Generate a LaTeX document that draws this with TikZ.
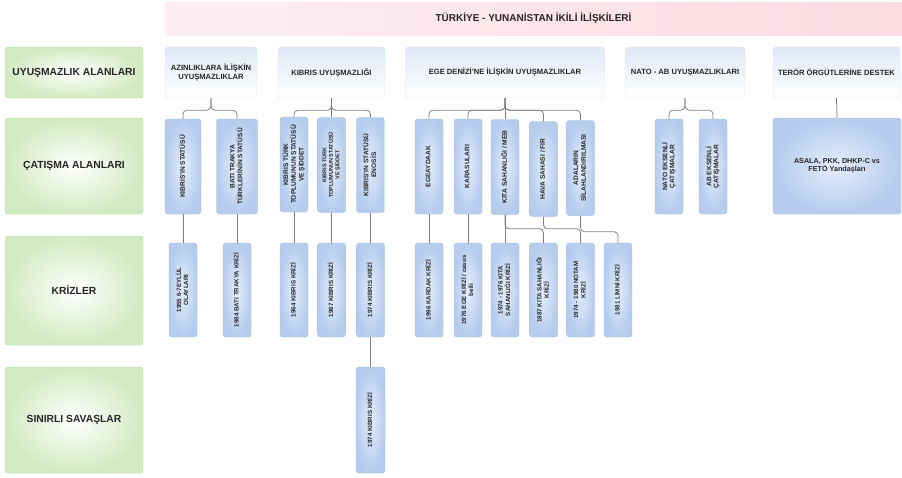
\documentclass[tikz,border=0pt]{standalone}
\usepackage{fontspec}
\setmainfont{Liberation Sans}

\definecolor{verdebordo}{HTML}{B3D79A}
\definecolor{verdefondo}{HTML}{D2EAC1}
\definecolor{blubordo}{HTML}{9DB6DD}
\definecolor{bluinterno}{HTML}{E4EDFA}
\definecolor{bluesterno}{HTML}{B5CCEE}
\definecolor{testabordo}{HTML}{D8E0EB}
\definecolor{testasopra}{HTML}{E0E9F6}
\definecolor{rosasx}{HTML}{FDEFF2}
\definecolor{rosadx}{HTML}{FBDCE3}
\definecolor{grigiolinea}{HTML}{808080}

% testo verticale nei box stretti
\newcommand{\vlabel}[1]{\rotatebox{90}{\begin{tabular}{@{}c@{}}#1\end{tabular}}}

\tikzset{
  titolo/.style={left color=rosasx, right color=rosadx, minimum width=737pt, minimum height=33pt,
    font=\fontsize{10}{11}\selectfont\bfseries, text=black!85},
  rowbox/.style={draw=verdebordo, rounded corners=3pt, inner color=white, outer color=verdefondo,
    minimum width=138pt, font=\fontsize{10.3}{12}\selectfont\bfseries, text=black!85},
  topic/.style={draw=testabordo, rounded corners=3pt, top color=testasopra, bottom color=white,
    minimum height=51pt, align=center, font=\fontsize{7.6}{8.2}\selectfont\bfseries, text=black!85},
  conflict/.style={draw=blubordo, rounded corners=3pt, inner color=bluinterno, outer color=bluesterno,
    minimum width=28pt, minimum height=95pt, inner sep=0pt, font=\fontsize{6.6}{7}\selectfont\bfseries, text=black!85},
  crisis/.style={conflict, minimum height=94pt, font=\fontsize{6.2}{6.8}\selectfont\bfseries},
  link/.style={draw=grigiolinea, line width=0.8pt, rounded corners=4pt}
}

\begin{document}
\begin{tikzpicture}[x=1pt, y=-1pt]
    \useasboundingbox (0,0) rectangle (902,477);

    % --- TITOLO ---
    \node[titolo] (turkyun) at (533.5,18.5) {TÜRKİYE - YUNANİSTAN İKİLİ İLİŞKİLERİ};

    % --- LIVELLI (colonna verde) ---
    \node[rowbox, minimum height=51pt] (uyusmazlik) at (74,72.5) {UYUŞMAZLIK ALANLARI};
    \node[rowbox, minimum height=96pt] (catisma) at (74,166) {ÇATIŞMA ALANLARI};
    \node[rowbox, minimum height=109pt] (krizler) at (74,290.5) {KRİZLER};
    \node[rowbox, minimum height=106pt] (savaslar) at (74,420) {SINIRLI SAVAŞLAR};

    % --- UYUSMAZLIK ALANLARI ---
    \node[topic, minimum width=92pt] (azinlik) at (211,72.5) {AZINLIKLARA İLİŞKİN\\UYUŞMAZLIKLAR};
    \node[topic, minimum width=107pt] (kibris) at (331.5,72.5) {KIBRIS UYUŞMAZLIĞI};
    \node[topic, minimum width=199pt] (ege) at (505,72.5) {EGE DENİZİ'NE İLİŞKİN UYUŞMAZLIKLAR};
    \node[topic, minimum width=120pt] (natoab) at (685,72.5) {NATO - AB UYUŞMAZLIKLARI};
    \node[topic, minimum width=127pt] (teror) at (836.5,72.5) {TERÖR ÖRGÜTLERİNE DESTEK};

    % --- CATISMA ALANLARI ---
    \node[conflict, minimum width=36pt] (kstatu) at (183,166.5) {\vlabel{KIBRIS'IN STATÜSÜ}};
    \node[conflict, minimum width=41pt] (btrakya) at (237,166.5) {\vlabel{BATI TRAKYA\\TÜRKLERİNİN STATÜSÜ}};
    \node[conflict] (kttoplum) at (294,164.5) {\vlabel{KIBRIS TÜRK\\TOPLUMUNUN STATÜSÜ\\VE ŞİDDET}};
    \node[conflict, font=\fontsize{5.5}{6}\selectfont\bfseries] (kttoplumb) at (331.5,165)
        {\vlabel{KIBRIS TÜRK\\TOPLUMUNUN STATÜSÜ\\VE ŞİDDET}};
    \node[conflict] (enosis) at (370.5,165) {\vlabel{KIBRIS'IN STATÜSÜ\\ENOSİS}};
    \node[conflict] (egeaydaak) at (429,166.5) {\vlabel{EGEAYDAAK}};
    \node[conflict] (karasulari) at (468,166.5) {\vlabel{KARASULARI}};
    \node[conflict] (kita) at (505,167) {\vlabel{KITA SAHANLIĞI / MEB}};
    \node[conflict] (hava) at (543.5,169) {\vlabel{HAVA SAHASI / FIR}};
    \node[conflict] (adalar) at (580.5,168) {\vlabel{ADALARIN\\SİLAHLANDIRILMASI}};
    \node[conflict] (natoeks) at (669,166.5) {\vlabel{NATO EKSENLİ\\ÇATIŞMALAR}};
    \node[conflict] (abeks) at (713,166.5) {\vlabel{AB EKSENLİ\\ÇATIŞMALAR}};
    \node[conflict, minimum width=128pt, minimum height=96pt, align=center,
        font=\fontsize{7.2}{8.4}\selectfont\bfseries] (orgutler) at (837,166) {ASALA, PKK, DHKP-C vs\\FETÖ Yandaşları};

    % --- KRIZLER ---
    \node[crisis] (k1955) at (183,290) {\vlabel{1955 6-7EYLÜL\\OLAYLARI}};
    \node[crisis] (k1984) at (237,290) {\vlabel{1984 BATI TRAKYA KRİZİ}};
    \node[crisis] (k1964) at (294,290) {\vlabel{1964 KIBRIS KRİZİ}};
    \node[crisis] (k1967) at (331.5,290) {\vlabel{1967 KIBRIS KRİZİ}};
    \node[crisis] (k1974) at (370.5,290) {\vlabel{1974 KIBRIS KRİZİ}};
    \node[crisis] (k1996) at (429,290) {\vlabel{1996 KARDAK KRİZİ}};
    \node[crisis] (k1976) at (468,290) {\vlabel{1976 EGE KRİZİ / casus\\belli}};
    \node[crisis] (k7476) at (505,290) {\vlabel{1974 - 1976 KITA\\SAHANLIĞI KRİZİ}};
    \node[crisis] (k1987) at (543.5,290) {\vlabel{1987 KITA SAHANLIĞI\\KRİZİ}};
    \node[crisis] (k7480) at (580.5,290) {\vlabel{1974 - 1980 NOTAM\\KRİZİ}};
    \node[crisis] (k1981) at (618,290) {\vlabel{1981 LİMNİ KRİZİ}};

    % --- SINIRLI SAVASLAR ---
    \node[crisis, minimum width=29pt, minimum height=106pt] (s1974) at (370.5,420) {\vlabel{1974 KIBRIS KRİZİ}};

    % --- COLLEGAMENTI ---
    \draw[link] (azinlik.south) -- ++(0,12) -| (kstatu.north);
    \draw[link] (azinlik.south) -- ++(0,12) -| (btrakya.north);
    \draw[link] (kibris.south) -- ++(0,12) -| (kttoplum.north);
    \draw[link] (kibris.south) -- (kttoplumb.north);
    \draw[link] (kibris.south) -- ++(0,12) -| (enosis.north);
    \foreach \n in {egeaydaak, karasulari, hava, adalar}
        \draw[link] (ege.south) -- ++(0,12) -| (\n.north);
    \draw[link] (ege.south) -- (kita.north);
    \draw[link] (natoab.south) -- ++(0,12) -| (natoeks.north);
    \draw[link] (natoab.south) -- ++(0,12) -| (abeks.north);
    \draw[link] (teror.south) -- (orgutler.north);

    % catisma -> kriz
    \foreach \a/\b in {kstatu/k1955, btrakya/k1984, kttoplum/k1964, kttoplumb/k1967, enosis/k1974,
                       egeaydaak/k1996, karasulari/k1976, kita/k7476}
        \draw[link] (\a.south) -- (\b.north);
    \draw[link] (kita.south) -- ++(0,14) -| (k1987.north);
    \draw[link] (hava.south) -- ++(0,12) -| (k7480.north);
    \draw[link] (adalar.south) -- ++(0,16) -| (k1981.north);

    % kriz -> savas
    \draw[link] (k1974.south) -- (s1974.north);

\end{tikzpicture}
\end{document}
